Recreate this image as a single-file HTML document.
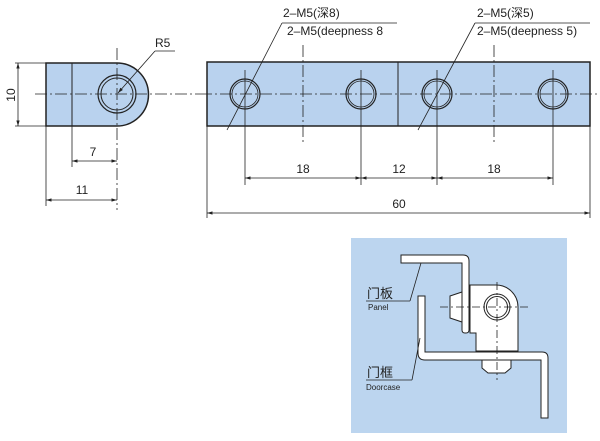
<!DOCTYPE html>
<html><head><meta charset="utf-8"><style>
html,body{margin:0;padding:0;background:#fff;width:600px;height:441px;overflow:hidden}
svg{display:block}
text{font-family:"Liberation Sans","Noto Sans CJK SC",sans-serif;fill:#222}
</style></head><body>
<svg width="600" height="441" viewBox="0 0 600 441" xmlns="http://www.w3.org/2000/svg">
<defs>
<marker id="a" viewBox="0 0 10 10" refX="10" refY="5" markerWidth="7" markerHeight="7" orient="auto-start-reverse"><path d="M0,2 L10,5 L0,8 z" fill="#222"/></marker>
</defs>
<g stroke="#222" fill="none" stroke-width="1">
<path d="M46,63 H117 A31,31 0 0 1 117,126 H46 Z" fill="#b9d2ee" stroke-width="1.5"/>
<line x1="72" y1="63" x2="72" y2="126"/>
<circle cx="117" cy="94" r="19" stroke-width="1.2"/>
<circle cx="117" cy="94" r="16"/>
<line x1="35" y1="94" x2="200" y2="94" stroke-dasharray="12,3,2,3" stroke-width="0.8"/>
<line x1="117" y1="48" x2="117" y2="210" stroke-dasharray="12,3,2,3" stroke-width="0.8"/>
<line x1="15" y1="63" x2="46" y2="63" stroke-width="0.8"/>
<line x1="15" y1="126" x2="46" y2="126" stroke-width="0.8"/>
<line x1="18" y1="63" x2="18" y2="126" marker-start="url(#a)" marker-end="url(#a)" stroke-width="0.8"/>
<line x1="72" y1="126" x2="72" y2="167" stroke-width="0.8"/>
<line x1="72" y1="161" x2="117" y2="161" marker-start="url(#a)" marker-end="url(#a)" stroke-width="0.8"/>
<line x1="46" y1="126" x2="46" y2="206" stroke-width="0.8"/>
<line x1="46" y1="200" x2="117" y2="200" marker-start="url(#a)" marker-end="url(#a)" stroke-width="0.8"/>
<line x1="175" y1="51" x2="155" y2="51" stroke-width="0.8"/>
<line x1="155" y1="51" x2="118" y2="93" marker-end="url(#a)" stroke-width="0.8"/>
<rect x="207" y="62" width="383" height="64" fill="#b9d2ee" stroke-width="1.5"/>
<line x1="398" y1="62" x2="398" y2="126"/>
<g stroke-width="1.2">
<circle cx="245" cy="94" r="15"/><circle cx="245" cy="94" r="13" stroke-width="0.8"/>
<circle cx="361" cy="94" r="15"/><circle cx="361" cy="94" r="13" stroke-width="0.8"/>
<circle cx="437" cy="94" r="15"/><circle cx="437" cy="94" r="13" stroke-width="0.8"/>
<circle cx="553" cy="94" r="15"/><circle cx="553" cy="94" r="13" stroke-width="0.8"/>
</g>
<line x1="200" y1="94" x2="600" y2="94" stroke-dasharray="12,3,2,3" stroke-width="0.8"/>
<g stroke-width="0.8">
<line x1="245" y1="70" x2="245" y2="185"/>
<line x1="361" y1="70" x2="361" y2="185"/>
<line x1="437" y1="70" x2="437" y2="185"/>
<line x1="553" y1="70" x2="553" y2="185"/>
<line x1="303" y1="45" x2="303" y2="145" stroke-dasharray="12,3,2,3"/>
<line x1="494" y1="45" x2="494" y2="145" stroke-dasharray="12,3,2,3"/>
<line x1="245" y1="178" x2="361" y2="178" marker-start="url(#a)" marker-end="url(#a)"/>
<line x1="361" y1="178" x2="437" y2="178" marker-start="url(#a)" marker-end="url(#a)"/>
<line x1="437" y1="178" x2="553" y2="178" marker-start="url(#a)" marker-end="url(#a)"/>
<line x1="207" y1="126" x2="207" y2="218"/>
<line x1="590" y1="126" x2="590" y2="218"/>
<line x1="207" y1="213" x2="590" y2="213" marker-start="url(#a)" marker-end="url(#a)"/>
<line x1="282" y1="23" x2="397" y2="23"/>
<line x1="282" y1="23" x2="227" y2="130"/>
<line x1="475" y1="23" x2="590" y2="23"/>
<line x1="475" y1="23" x2="418" y2="130"/>
</g>
</g>
<text x="155" y="47" font-size="12">R5</text>
<text x="11" y="95" font-size="12" transform="rotate(-90 11 95)" text-anchor="middle" dy="4">10</text>
<text x="93" y="156" font-size="12" text-anchor="middle">7</text>
<text x="82" y="194" font-size="12" text-anchor="middle">11</text>
<text x="303" y="173" font-size="12" text-anchor="middle">18</text>
<text x="399" y="173" font-size="12" text-anchor="middle">12</text>
<text x="494" y="173" font-size="12" text-anchor="middle">18</text>
<text x="399" y="208" font-size="12" text-anchor="middle">60</text>
<text x="283" y="17" font-size="12">2–M5(深8)</text>
<text x="287" y="35" font-size="12">2–M5(deepness 8</text>
<text x="477" y="17" font-size="12">2–M5(深5)</text>
<text x="477" y="35" font-size="12">2–M5(deepness 5)</text>
<rect x="351" y="238" width="216" height="195" fill="#bcd5ef"/>
<g stroke="#222" stroke-width="1" fill="#fff">
<path d="M470,285 H496 A22,22 0 0 1 518,307 V351 H476 V333 H470 Z"/>
<circle cx="497" cy="307" r="13"/><circle cx="497" cy="307" r="10.5" fill="none"/>
<path d="M401,255 H463 Q469,255 469,261 V330 Q469,333 466,333 H465 Q462,333 462,330 V263 H401 Z"/>
<path d="M450,296 L462,292 V322 L450,318 Z"/>
<path d="M418,296 H425 V352 H542 Q548,352 548,358 V418 H541 V360 H425 Q418,360 418,353 Z"/>
<path d="M482,360 H511 V368 L505,373 H488 L482,368 Z"/>
</g>
<g stroke="#222" stroke-width="0.8" fill="none">
<line x1="497" y1="282" x2="497" y2="380" stroke-dasharray="8,3,2,3"/>
<line x1="440" y1="307" x2="530" y2="307" stroke-dasharray="8,3,2,3"/>
<line x1="366" y1="301" x2="410" y2="301"/><line x1="410" y1="301" x2="421" y2="263"/>
<line x1="366" y1="380" x2="412" y2="380"/><line x1="412" y1="380" x2="420" y2="338"/>
</g>
<text x="367" y="298" font-size="13">门板</text>
<text x="368" y="310" font-size="8">Panel</text>
<text x="367" y="377" font-size="13">门框</text>
<text x="366" y="390" font-size="8">Doorcase</text>
</svg>
</body></html>
